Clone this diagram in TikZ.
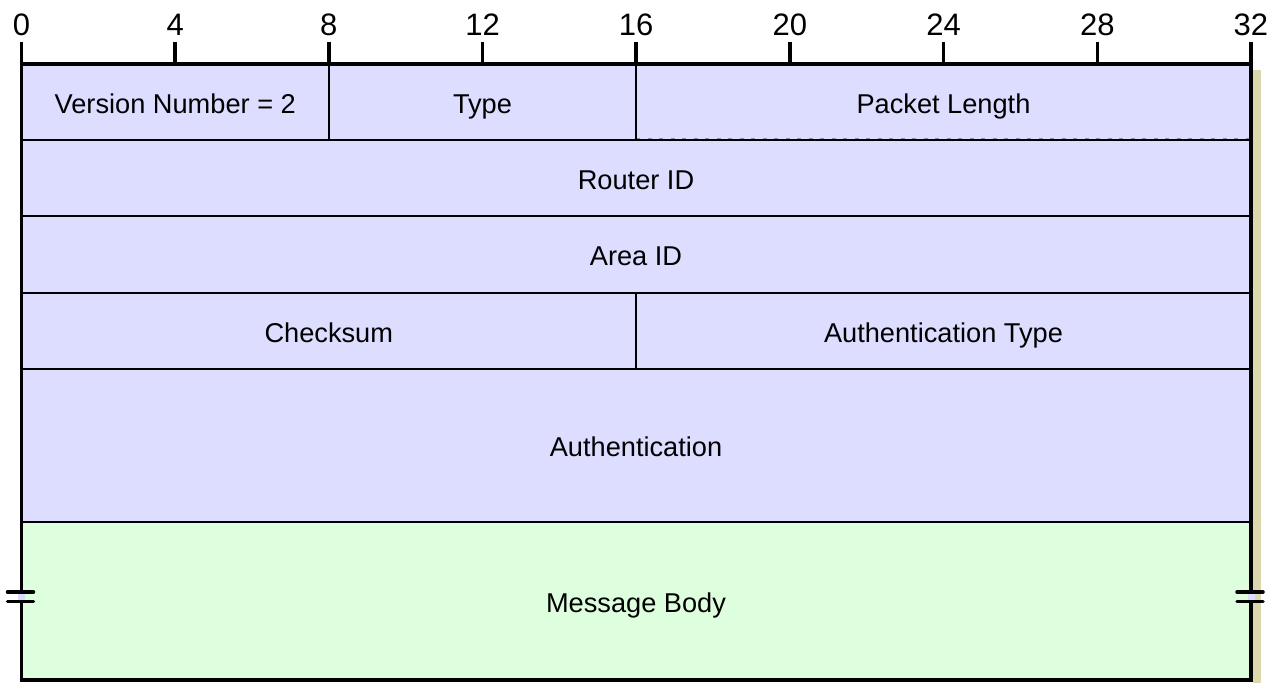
\documentclass[tikz,border=0pt]{standalone}
\usepackage{fontspec}
\setmainfont{Liberation Sans}
\definecolor{fieldblue}{HTML}{DDDDFF}
\definecolor{bodygreen}{HTML}{DDFFDD}
\definecolor{shadowtan}{HTML}{DCD8AE}
\definecolor{dashgray}{HTML}{8C8C9C}
\begin{document}
\begin{tikzpicture}[x=1pt,y=-1pt,
  lbl/.style={anchor=base,font=\fontsize{27.2}{30}\selectfont,inner sep=0pt},
  ticklbl/.style={anchor=base,font=\fontsize{31}{34}\selectfont,inner sep=0pt},
  thin line/.style={line width=2pt,black},
  thick line/.style={line width=3.5pt,black},
  breakbar/.style={line width=3.5pt,black,line cap=round}]
\useasboundingbox (0,0) rectangle (1278,683);
% shadow
\fill[shadowtan] (1253,70) rectangle (1261,683);
% fills
\fill[fieldblue] (21.5,64) rectangle (1251,522);
\fill[bodygreen] (21.5,522) rectangle (1251,680);
% coordinates
\coordinate (L1) at (21.5,140); \coordinate (R1) at (1251,140);
\coordinate (L2) at (21.5,216); \coordinate (R2) at (1251,216);
\coordinate (L3) at (21.5,293); \coordinate (R3) at (1251,293);
\coordinate (L4) at (21.5,369); \coordinate (R4) at (1251,369);
\coordinate (L5) at (21.5,522); \coordinate (R5) at (1251,522);
\coordinate (V8t) at (329,64); \coordinate (V8b) at (329,140);
\coordinate (V16t) at (636,64); \coordinate (V16b) at (636,140);
\coordinate (C16t) at (636,293); \coordinate (C16b) at (636,369);
\coordinate (D1) at (636,138.3); \coordinate (D2) at (1251,138.3);
% inner lines
\draw[dashgray,line width=1.5pt,dash pattern=on 4pt off 7.5pt] (D1) -- (D2);
\draw[thin line] (L1) -- (R1);
\draw[thin line] (L2) -- (R2);
\draw[thin line] (L3) -- (R3);
\draw[thin line] (L4) -- (R4);
\draw[thin line] (L5) -- (R5);
\draw[thin line] (V8t) -- (V8b);
\draw[thin line] (V16t) -- (V16b);
\draw[thin line] (C16t) -- (C16b);
% outer border
\coordinate (TL) at (21.5,64); \coordinate (TR) at (1251,64);
\coordinate (BL) at (21.5,680); \coordinate (BR) at (1251,680);
\draw[thick line] (TL) -- (TR);
\draw[thick line] (BL) -- (BR);
\draw[thick line] (21.5,42) -- (21.5,681.75);
\draw[thick line] (1251,42) -- (1251,681.75);
% ticks and labels
\foreach \b in {0,4,...,32} {
  \pgfmathsetmacro{\xx}{21.5+\b*38.42}
  \draw[thick line] (\xx,42) -- (\xx,64);
  \node[ticklbl] (tick\b) at (\xx,35) {\b};
}
% break marks
\fill[fieldblue] (18,593) rectangle (25,601);
\fill[fieldblue] (1247.5,593) rectangle (1254.5,601);
\coordinate (BLa1) at (7.5,592); \coordinate (BLa2) at (33.5,592);
\coordinate (BLb1) at (7.5,601.5); \coordinate (BLb2) at (33.5,601.5);
\coordinate (BRa1) at (1237,592); \coordinate (BRa2) at (1263,592);
\coordinate (BRb1) at (1237,601.5); \coordinate (BRb2) at (1263,601.5);
\draw[breakbar] (BLa1) -- (BLa2);
\draw[breakbar] (BLb1) -- (BLb2);
\draw[breakbar] (BRa1) -- (BRa2);
\draw[breakbar] (BRb1) -- (BRb2);
% labels
\node[lbl] (ver) at (175.3,113) {Version Number = 2};
\node[lbl] (type) at (482.5,113) {Type};
\node[lbl] (plen) at (943.5,113) {Packet Length};
\node[lbl] (rid) at (636,189) {Router ID};
\node[lbl] (aid) at (636,265.5) {Area ID};
\node[lbl] (cks) at (328.8,342) {Checksum};
\node[lbl] (atype) at (943.5,342) {Authentication Type};
\node[lbl] (auth) at (636,456.5) {Authentication};
\node[lbl] (body) at (636,612) {Message Body};
\end{tikzpicture}
\end{document}
